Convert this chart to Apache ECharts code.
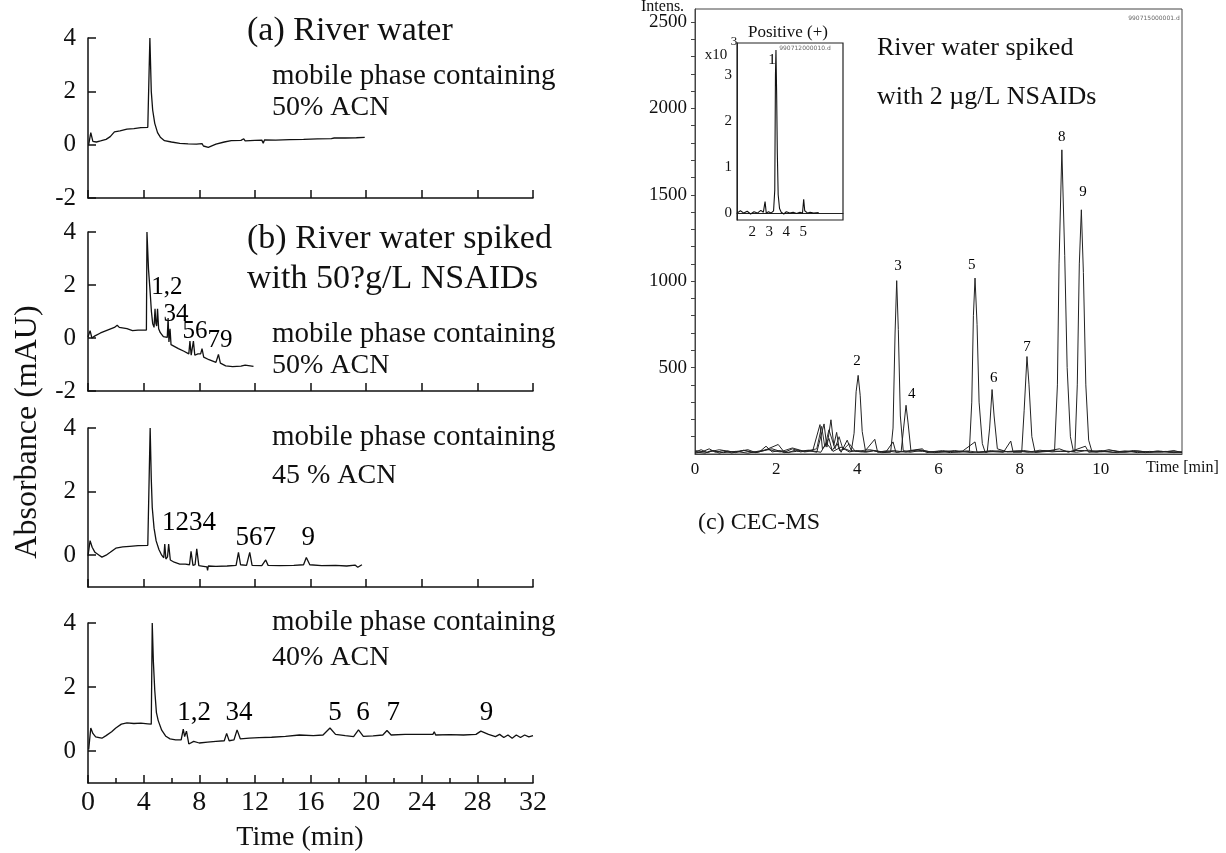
<!DOCTYPE html>
<html lang="en">
<head>
<meta charset="UTF-8">
<title>NSAIDs in river water</title>
<script src="https://cdn.jsdelivr.net/npm/echarts/dist/echarts.min.js"></script>
<style>
    html, body { margin: 0; padding: 0; background: #fff; }
    #chart { width: 1226px; height: 853px; }
</style>
</head>
<body>
<div id="chart"></div>
<script>
// ---- left: HPLC traces, [time (min), absorbance (mAU)] ----
var traceRiver50 = [[0.05,0],[0.2,0.45],[0.35,0.12],[0.6,0.1],[0.9,0.14],[1.3,0.2],[1.6,0.3],[1.9,0.48],[2.3,0.52],[2.8,0.58],[3.3,0.6],[3.8,0.64],[4.3,0.65],[4.42,0.66],[4.45,4.0],[4.55,2.0],[4.65,1.3],[4.8,0.8],[5.0,0.45],[5.2,0.28],[5.5,0.15],[6.0,0.1],[6.6,0.05],[7.2,0.03],[7.8,0.02],[8.2,0.04],[8.3,-0.05],[8.4,0.0],[8.65,-0.1],[9.2,0.02],[9.8,0.1],[10.3,0.15],[11.0,0.16],[11.2,0.22],[11.3,0.14],[12.0,0.16],[12.5,0.17],[12.6,0.05],[12.7,0.18],[13.5,0.17],[14.5,0.19],[15.5,0.2],[16.5,0.22],[17.5,0.23],[17.6,0.16],[17.7,0.25],[18.5,0.25],[19.3,0.26],[19.9,0.27]];
var traceSpiked50 = [[0,0.04],[0.15,0.28],[0.28,0.0],[0.5,0.08],[0.9,0.19],[1.4,0.3],[1.9,0.4],[2.1,0.48],[2.25,0.4],[2.8,0.35],[3.2,0.28],[3.6,0.3],[4.2,0.3],[4.24,4.0],[4.35,2.6],[4.46,1.8],[4.56,1.0],[4.65,0.55],[4.75,0.4],[4.82,1.1],[4.88,0.55],[4.94,0.45],[5.0,1.1],[5.08,0.35],[5.2,0.2],[5.42,0.05],[5.7,0.02],[5.76,0.75],[5.82,-0.15],[5.9,0.35],[5.97,-0.25],[6.1,-0.3],[6.5,-0.4],[6.9,-0.5],[7.25,-0.6],[7.33,-0.12],[7.42,-0.65],[7.5,-0.62],[7.58,-0.12],[7.68,-0.65],[7.9,-0.6],[8.1,-0.6],[8.2,-0.4],[8.32,-0.72],[8.7,-0.82],[9.2,-0.92],[9.38,-0.62],[9.52,-0.95],[9.9,-1.05],[10.4,-1.08],[11.0,-1.06],[11.3,-1.02],[11.4,-1.08],[11.9,-1.07]];
var traceSpiked45 = [[0,-0.02],[0.15,0.46],[0.3,0.25],[0.5,0.09],[0.8,0.0],[1.0,-0.06],[1.3,0.0],[1.6,0.09],[2.0,0.22],[2.5,0.26],[3.0,0.28],[3.6,0.3],[4.3,0.31],[4.44,0.31],[4.47,4.0],[4.55,2.4],[4.62,1.5],[4.75,0.85],[4.9,0.45],[5.1,0.18],[5.3,0.0],[5.45,-0.08],[5.52,0.35],[5.6,-0.12],[5.72,-0.05],[5.8,0.35],[5.92,-0.15],[6.2,-0.22],[6.6,-0.28],[7.0,-0.28],[7.3,-0.3],[7.41,0.12],[7.55,-0.32],[7.7,-0.3],[7.82,0.2],[7.97,-0.33],[8.3,-0.35],[8.55,-0.37],[8.6,-0.48],[8.65,-0.34],[9.2,-0.35],[10.0,-0.34],[10.65,-0.32],[10.82,0.09],[10.97,-0.3],[11.4,-0.32],[11.63,0.09],[11.8,-0.32],[12.5,-0.33],[12.78,-0.15],[12.95,-0.32],[13.8,-0.33],[14.8,-0.32],[15.5,-0.3],[15.7,-0.07],[15.95,-0.3],[16.8,-0.33],[17.8,-0.32],[18.6,-0.34],[19.2,-0.31],[19.4,-0.38],[19.7,-0.3]];
var traceSpiked40 = [[0.05,0.05],[0.2,0.72],[0.35,0.55],[0.55,0.44],[0.8,0.42],[1.0,0.4],[1.3,0.48],[1.7,0.6],[2.0,0.72],[2.4,0.84],[2.8,0.88],[3.3,0.86],[3.8,0.87],[4.3,0.85],[4.55,0.84],[4.62,4.0],[4.7,2.8],[4.8,1.9],[4.92,1.2],[5.05,0.95],[5.3,0.65],[5.6,0.46],[5.9,0.38],[6.3,0.35],[6.7,0.35],[6.85,0.68],[6.95,0.45],[7.08,0.62],[7.25,0.22],[7.6,0.3],[8.0,0.25],[8.6,0.28],[9.2,0.3],[9.8,0.32],[9.97,0.55],[10.15,0.32],[10.5,0.35],[10.72,0.66],[10.95,0.38],[11.6,0.4],[12.3,0.42],[13.2,0.43],[14.2,0.46],[15.2,0.5],[16.2,0.48],[16.9,0.5],[17.4,0.72],[17.8,0.52],[18.5,0.48],[19.1,0.45],[19.45,0.66],[19.8,0.46],[20.5,0.47],[21.2,0.5],[21.5,0.64],[21.8,0.5],[22.8,0.52],[23.8,0.52],[24.8,0.52],[24.9,0.6],[25.0,0.5],[26.0,0.51],[27.0,0.5],[27.9,0.52],[28.25,0.62],[28.8,0.52],[29.3,0.45],[29.6,0.52],[29.9,0.42],[30.2,0.5],[30.5,0.4],[30.8,0.5],[31.1,0.42],[31.4,0.5],[31.7,0.44],[32.0,0.48]];

// peak numbers [text, time, absorbance]
var peaksSpiked50 = [['1,2',5.68,1.89],['34',6.33,0.9],['56',7.7,0.26],['79',9.5,-0.11]];
var peaksSpiked45 = [['1234',7.27,1.03],['567',12.06,0.55],['9',15.83,0.55]];
var peaksSpiked40 = [['1,2',7.64,1.19],['34',10.85,1.19],['5',17.77,1.19],['6',19.78,1.19],['7',21.95,1.19],['9',28.65,1.19]];

var yTicksWide = [-2, 0, 2, 4];
var yTicksNarrow = [0, 2, 4];

// ---- right: CEC-MS extracted ion traces, [time (min), intensity] ----
var msTrace1 = [[0,10],[0.15,25],[0.3,8],[0.45,20],[0.6,5],[0.8,18],[1.0,8],[1.2,22],[1.4,10],[1.6,15],[1.75,45],[1.9,12],[2.1,20],[2.3,8],[2.5,25],[2.7,12],[2.9,18],[3.08,170],[3.14,30],[3.25,60],[3.4,15],[3.6,40],[3.8,12],[4.0,20],[4.2,10],[4.4,18],[4.6,8],[4.82,10],[4.88,150],[4.93,700],[4.97,1003],[5.01,720],[5.06,220],[5.13,20],[5.3,10],[5.6,22],[5.9,8],[6.2,15],[6.5,10],[6.76,15],[6.82,300],[6.86,800],[6.9,1018],[6.95,750],[7.0,300],[7.08,60],[7.15,10],[7.5,18],[7.8,12],[8.1,20],[8.4,10],[8.7,15],[8.86,20],[8.93,400],[8.97,1100],[9.04,1760],[9.11,1150],[9.17,500],[9.25,100],[9.32,20],[9.6,20],[9.9,10],[10.2,25],[10.5,10],[10.8,15],[11.1,8],[11.4,18],[11.7,10],[12,12]];
var msTrace2 = [[0,5],[0.2,15],[0.35,30],[0.5,10],[0.7,20],[0.9,6],[1.1,15],[1.3,25],[1.5,8],[1.7,20],[2.05,55],[2.2,10],[2.4,30],[2.6,12],[2.8,20],[3.0,10],[3.18,174],[3.25,40],[3.35,198],[3.42,50],[3.49,125],[3.56,20],[3.7,30],[3.85,15],[3.92,120],[3.97,360],[4.02,455],[4.07,340],[4.12,130],[4.2,20],[4.43,85],[4.5,10],[4.7,18],[5.0,10],[5.3,20],[5.6,30],[5.7,8],[6.0,15],[6.3,8],[6.6,18],[6.9,70],[6.95,10],[7.2,10],[7.26,150],[7.32,373],[7.37,220],[7.45,30],[7.7,12],[8.0,18],[8.3,10],[8.6,20],[9.0,15],[9.36,15],[9.42,400],[9.47,1100],[9.52,1413],[9.57,1050],[9.63,400],[9.7,80],[9.78,15],[10.0,20],[10.3,10],[10.6,18],[10.9,8],[11.2,15],[11.5,10],[11.8,20],[12,8]];
var msTrace3 = [[0,12],[0.25,5],[0.4,20],[0.7,8],[1.0,15],[1.3,5],[1.6,18],[1.9,30],[2.2,8],[2.5,15],[2.8,22],[3.1,10],[3.3,90],[3.38,20],[3.5,60],[3.6,10],[3.75,80],[3.85,20],[4.1,12],[4.4,20],[4.7,10],[4.88,70],[4.95,10],[5.08,15],[5.14,150],[5.2,282],[5.25,180],[5.32,20],[5.6,15],[6.0,10],[6.4,20],[6.8,8],[7.2,15],[7.6,10],[7.78,75],[7.84,10],[8.05,10],[8.11,250],[8.18,564],[8.23,400],[8.3,100],[8.38,10],[8.7,18],[8.98,30],[9.2,10],[9.62,45],[9.7,10],[10.0,15],[10.4,8],[10.8,20],[11.2,10],[11.6,15],[12,10]];
var msTrace4 = [[0,20],[0.3,10],[0.6,25],[0.9,12],[1.2,20],[1.5,8],[1.8,25],[2.1,12],[2.4,35],[2.7,15],[3.0,30],[3.12,160],[3.2,40],[3.3,140],[3.45,30],[3.55,100],[3.65,25],[3.8,60],[3.95,15],[4.3,25],[4.6,12],[4.9,20],[5.2,10],[5.5,25],[5.8,12],[6.1,20],[6.4,12],[6.7,18],[7.0,10],[7.3,20],[7.6,12],[7.9,18],[8.2,10],[8.5,22],[8.8,12],[9.1,18],[9.4,10],[9.7,22],[10.0,12],[10.3,20],[10.6,10],[10.9,18],[11.2,10],[11.5,15],[11.8,8],[12,12]];
var msPeaks = [['2',3.99,540],['3',5.0,1090],['4',5.34,344],['5',6.82,1095],['6',7.36,442],['7',8.18,616],['8',9.04,1835],['9',9.56,1517]];
var msYLabels = [500, 1000, 1500, 2000, 2500];
var msYTicks = [100,200,300,400,500,600,700,800,900,1000,1100,1200,1300,1400,1500,1600,1700,1800,1900,2000,2100,2200,2300,2400,2500];
var msXLabels = [0, 2, 4, 6, 8, 10];

// inset: positive mode, intensity x10^3
var insetTrace = [[1.1,0.0],[1.3,0.05],[1.5,0.0],[1.7,0.04],[1.9,-0.02],[2.1,0.03],[2.3,0.0],[2.5,0.06],[2.65,0.02],[2.75,0.25],[2.82,0.0],[2.95,0.03],[3.1,0.0],[3.25,0.05],[3.32,0.5],[3.36,3.0],[3.39,3.55],[3.43,2.6],[3.47,1.3],[3.52,0.4],[3.6,0.1],[3.7,0.02],[3.85,-0.02],[4.0,0.03],[4.2,0.0],[4.4,0.02],[4.6,-0.01],[4.8,0.02],[4.95,0.0],[5.02,0.3],[5.08,0.05],[5.15,0.08],[5.25,0.0],[5.4,0.02],[5.6,0.0],[5.9,0.01]];
var insetPeaks = [['1',3.16,3.33]];
var insetXLabels = [2, 3, 4, 5];
var insetYLabels = [0, 1, 2, 3];

var serif = '"Liberation Serif", "Times New Roman", serif';
var ink = '#111';

function leftX(gi, bottom) {
    return {
        type: 'value', gridIndex: gi, min: 0, max: 32, interval: 4,
        axisLine: {show: true, onZero: false, lineStyle: {color: ink, width: 1.5}},
        axisTick: {show: true, inside: true, length: 8, lineStyle: {color: ink, width: 1.5}},
        minorTick: {show: bottom, splitNumber: 2, length: 5, lineStyle: {color: ink, width: 1.5}},
        axisLabel: {show: bottom, color: ink, fontFamily: serif, fontSize: 28, margin: 6},
        splitLine: {show: false}, minorSplitLine: {show: false}
    };
}
function leftY(gi, min, ticks) {
    return {
        type: 'value', gridIndex: gi, min: min, max: 4,
        axisLine: {show: true, onZero: false, lineStyle: {color: ink, width: 1.5}},
        axisTick: {show: true, inside: true, length: 8, customValues: ticks, lineStyle: {color: ink, width: 1.5}},
        axisLabel: {color: ink, fontFamily: serif, fontSize: 25, margin: 12, customValues: ticks},
        splitLine: {show: false}
    };
}
function trace(data, xi, color, width) {
    return {
        type: 'line', data: data, xAxisIndex: xi, yAxisIndex: xi,
        showSymbol: false, symbol: 'none', silent: true,
        lineStyle: {color: color, width: width}
    };
}
function peakLabels(list, xi, size) {
    return {
        type: 'scatter', xAxisIndex: xi, yAxisIndex: xi, symbolSize: 0, silent: true,
        itemStyle: {opacity: 1, color: ink},
        data: list.map(function (p) { return {name: p[0], value: [p[1], p[2]]}; }),
        label: {show: true, position: 'inside', formatter: '{b}', color: '#000', opacity: 1,
                textBorderWidth: 0, fontFamily: serif, fontSize: size}
    };
}
function txt(text, x, y, size, align, extra) {
    var el = {
        type: 'text', x: x, y: y, silent: true,
        style: {text: text, font: size + 'px ' + serif, fill: ink, textAlign: align || 'left', textVerticalAlign: 'middle', verticalAlign: 'middle'}
    };
    if (extra) { for (var k in extra) el[k] = extra[k]; }
    return el;
}
function tiny(text, x, y) {
    return {
        type: 'text', x: x, y: y, silent: true,
        style: {text: text, font: '6px "DejaVu Sans", sans-serif', fill: '#666', textAlign: 'center', verticalAlign: 'middle'}
    };
}
function plain(v) { return String(v); }

var chart = echarts.init(document.getElementById('chart'));
chart.setOption({
    animation: false,
    backgroundColor: '#fff',
    grid: [
        {left: 88, top: 38, width: 445, height: 160},
        {left: 88, top: 232, width: 445, height: 159},
        {left: 88, top: 428, width: 445, height: 159},
        {left: 88, top: 623, width: 445, height: 160},
        {left: 695, top: 9, width: 487, height: 445, show: true, borderColor: '#444', borderWidth: 1},
        {left: 737, top: 43, width: 106, height: 177, show: true, borderColor: '#222', borderWidth: 1.2, backgroundColor: '#fff'}
    ],
    xAxis: [
        leftX(0, false), leftX(1, false), leftX(2, false), leftX(3, true),
        {
            type: 'value', gridIndex: 4, min: 0, max: 12,
            axisLine: {show: true, lineStyle: {color: '#444'}},
            axisTick: {show: false},
            axisLabel: {color: ink, fontFamily: serif, fontSize: 17, margin: 7, customValues: msXLabels, formatter: plain},
            splitLine: {show: false}
        },
        {
            type: 'value', gridIndex: 5, min: 1.1, max: 7.33,
            axisLine: {show: true, lineStyle: {color: '#222'}},
            axisTick: {show: false},
            axisLabel: {color: ink, fontFamily: serif, fontSize: 15, margin: 5, customValues: insetXLabels, formatter: plain},
            splitLine: {show: false}
        }
    ],
    yAxis: [
        leftY(0, -2, yTicksWide), leftY(1, -2, yTicksWide), leftY(2, -1, yTicksNarrow), leftY(3, -1, yTicksNarrow),
        {
            type: 'value', gridIndex: 4, min: 0, max: 2575,
            axisLine: {show: true, lineStyle: {color: '#444'}},
            axisTick: {show: true, length: 4, customValues: msYTicks, lineStyle: {color: '#444'}},
            axisLabel: {color: ink, fontFamily: serif, fontSize: 19, margin: 8, customValues: msYLabels, formatter: plain},
            splitLine: {show: false}
        },
        {
            type: 'value', gridIndex: 5, min: -0.15, max: 3.7,
            axisLine: {show: true, lineStyle: {color: '#222'}},
            axisTick: {show: false},
            axisLabel: {color: ink, fontFamily: serif, fontSize: 15, margin: 5, customValues: insetYLabels, formatter: plain},
            splitLine: {show: false}
        }
    ],
    series: [
        trace(traceRiver50, 0, ink, 1.3),
        trace(traceSpiked50, 1, ink, 1.3),
        trace(traceSpiked45, 2, ink, 1.3),
        trace(traceSpiked40, 3, ink, 1.3),
        peakLabels(peaksSpiked50, 1, 25),
        peakLabels(peaksSpiked45, 2, 27),
        peakLabels(peaksSpiked40, 3, 27),
        trace(msTrace4, 4, '#333', 1),
        trace(msTrace3, 4, '#222', 1),
        trace(msTrace2, 4, '#222', 1),
        trace(msTrace1, 4, '#222', 1),
        peakLabels(msPeaks, 4, 15),
        trace(insetTrace, 5, '#111', 1.1),
        peakLabels(insetPeaks, 5, 15)
    ],
    graphic: [
        txt('Absorbance (mAU)', 28, 432, 32, 'center', {rotation: Math.PI / 2}),
        txt('Time (min)', 300, 838, 28, 'center'),
        txt('(a) River water', 247, 31, 34),
        txt('mobile phase containing', 272, 76, 29),
        txt('50% ACN', 272, 108, 28),
        txt('(b) River water spiked', 247, 239, 34),
        txt('with 50?g/L NSAIDs', 247, 279, 34),
        txt('mobile phase containing', 272, 334, 29),
        txt('50% ACN', 272, 366, 28),
        txt('mobile phase containing', 272, 437, 29),
        txt('45 % ACN', 272, 476, 28),
        txt('mobile phase containing', 272, 622, 29),
        txt('40% ACN', 272, 658, 28),
        txt('Intens.', 641, 7, 16),
        tiny('990715000001.d', 1154, 18),
        txt('River water spiked', 877, 48, 26),
        txt('with 2 \u00b5g/L NSAIDs', 877, 97, 26),
        txt('Positive (+)', 788, 33, 17, 'center'),
        txt('x10', 716, 55, 15, 'center'),
        txt('3', 734, 42, 13, 'center'),
        tiny('990712000010.d', 805, 48),
        txt('Time [min]', 1146, 468, 16),
        txt('(c) CEC-MS', 698, 523, 24)
    ]
});
</script>
</body>
</html>
